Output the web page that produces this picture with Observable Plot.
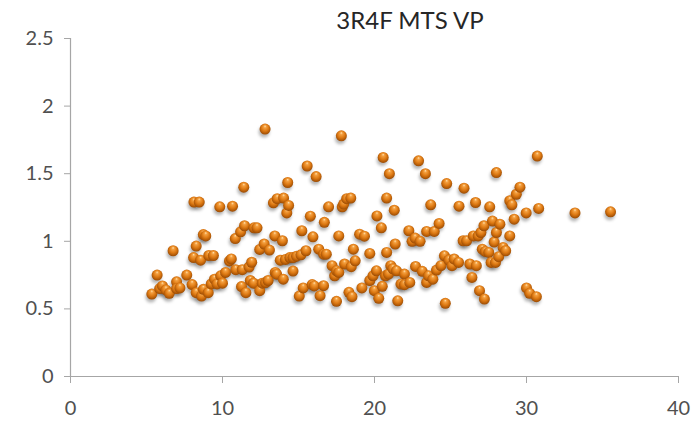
<!DOCTYPE html>
<html>
<head>
<meta charset="utf-8">
<script src="https://cdn.jsdelivr.net/npm/d3@7"></script>
<script src="https://cdn.jsdelivr.net/npm/@observablehq/plot@0.6"></script>
<style>
  html, body { margin: 0; padding: 0; background: #fff; }
  #wrap { position: relative; width: 692px; height: 421px; }
  #title { position: absolute; left: 310px; width: 200px; top: 5px; text-align: center;
           font-family: Lato, "Open Sans", sans-serif; font-size: 24px; color: #262626; }
</style>
</head>
<body>
<div id="wrap"><div id="title">3R4F MTS VP</div></div>
<script>
const title = "3R4F MTS VP";
const xTicks = [0, 10, 20, 30, 40];
const yTicks = [0, 0.5, 1, 1.5, 2, 2.5];
const xs = [5.35,5.7,5.87,6.05,6.28,6.5,6.75,6.98,6.98,7.2,7.65,8.0,8.1,8.12,8.47,8.27,8.27,8.56,8.62,8.74,8.9,8.74,9.06,9.1,9.4,9.26,9.47,9.64,9.82,9.88,10.0,10.2,10.46,10.66,10.58,10.84,10.87,11.19,11.25,11.3,11.4,11.45,11.54,11.75,11.83,11.92,12.04,12.07,12.27,12.45,12.45,12.62,12.74,12.8,12.83,13.0,13.09,13.35,13.44,13.47,13.56,13.6,13.8,13.94,14.0,14.02,14.14,14.23,14.29,14.35,14.43,14.64,14.64,14.87,15.05,15.16,15.22,15.31,15.49,15.57,15.78,15.9,15.95,16.04,16.16,16.33,16.42,16.65,16.65,16.7,16.83,16.98,17.21,17.38,17.5,17.5,17.65,17.65,17.82,17.88,17.97,18.03,18.17,18.32,18.44,18.47,18.52,18.61,18.73,19.02,19.17,19.34,19.69,19.69,19.9,19.99,20.13,20.16,20.28,20.45,20.51,20.57,20.72,20.8,20.8,20.92,20.98,21.07,21.21,21.3,21.36,21.45,21.53,21.74,21.97,21.97,22.26,22.32,22.47,22.67,22.7,22.9,23.0,23.14,23.35,23.43,23.43,23.55,23.7,23.93,23.84,24.08,24.25,24.37,24.6,24.66,24.75,24.89,25.1,25.24,25.53,25.56,25.89,25.83,26.06,26.27,26.41,26.5,26.65,26.7,26.82,26.91,27.0,27.09,27.2,27.23,27.29,27.52,27.58,27.67,27.76,27.87,27.96,28.02,28.02,28.17,28.25,28.46,28.63,28.9,28.9,29.04,29.19,29.33,29.57,29.98,30.0,30.21,30.65,30.71,30.8,33.19,35.53];
const ys = [0.61,0.75,0.65,0.67,0.64,0.615,0.93,0.70,0.65,0.655,0.75,0.68,0.88,1.29,1.29,0.965,0.62,0.86,0.595,1.05,1.04,0.645,0.62,0.895,0.895,0.685,0.72,0.685,1.255,0.745,0.69,0.77,0.855,1.26,0.87,1.02,0.79,1.07,0.665,0.79,1.40,1.115,0.62,0.81,0.71,0.845,0.69,1.10,1.10,0.635,0.94,0.69,0.98,1.83,0.695,0.71,0.935,1.285,1.04,0.77,0.757,1.315,0.86,1.004,0.72,1.32,0.866,1.21,1.435,1.265,0.88,0.78,0.88,0.89,0.595,0.90,1.078,0.655,0.93,1.557,1.186,0.68,1.033,0.67,1.479,0.942,0.598,0.672,0.905,1.14,0.905,1.255,0.82,0.745,0.556,0.782,1.04,0.77,1.78,1.255,1.275,0.832,1.315,0.623,1.32,0.812,0.59,0.942,0.856,1.053,0.655,1.038,0.91,0.71,0.745,0.635,0.782,1.188,0.578,1.10,0.667,1.62,0.745,1.32,0.918,0.758,1.50,0.82,0.797,1.23,0.98,0.782,0.56,0.684,0.758,0.679,1.078,0.696,1.0,1.024,0.814,1.595,1.0,0.778,1.50,1.073,0.696,0.745,1.27,1.073,0.72,0.787,1.132,0.82,0.893,0.541,1.427,0.861,0.82,0.869,0.844,1.26,1.393,1.004,1.004,0.832,0.733,1.04,1.287,0.82,1.04,0.635,1.065,0.942,1.115,0.573,0.925,0.918,1.255,0.844,1.15,0.994,0.844,1.508,1.065,0.886,1.127,0.955,0.93,1.04,1.30,1.27,1.164,1.348,1.40,1.21,0.655,0.615,0.59,1.63,1.243,1.21,1.218];

const data = xs.map((x, i) => ({x, y: ys[i]}));
const axisColor = "#a6a6a6";
const textColor = "#505050";
const fmt = d => String(d);

const chart = Plot.plot({
  width: 692,
  height: 421,
  marginLeft: 70,
  marginRight: 14,
  marginTop: 38,
  marginBottom: 45,
  style: {fontFamily: "Lato, 'Open Sans', sans-serif", fontSize: "20px", color: textColor, background: "#fff"},
  x: {domain: [0, 40]},
  y: {domain: [0, 2.5]},
  marks: [
    Plot.axisY(yTicks, {tickSize: 6, tickPadding: 11, stroke: axisColor, fill: textColor, label: null, fontSize: 20, tickFormat: fmt}),
    Plot.axisX(xTicks, {tickSize: 7, tickPadding: 17, stroke: axisColor, fill: textColor, label: null, fontSize: 20, tickFormat: fmt}),
    Plot.ruleX([0], {y1: 0, y2: 2.5, stroke: axisColor, strokeWidth: 1.2}),
    Plot.ruleY([0], {x1: 0, x2: 40, stroke: axisColor, strokeWidth: 1.2}),
    Plot.dot(data, {x: "x", y: "y", r: 5.5, dx: -1, dy: 3, fill: "#000", fillOpacity: 0.28, stroke: "none", className: "shadow"}),
    Plot.dot(data, {x: "x", y: "y", r: 5.5, fill: "url(#ball)", stroke: "none", className: "balls"})
  ]
});

const svgNS = "http://www.w3.org/2000/svg";
const defs = document.createElementNS(svgNS, "defs");
defs.innerHTML = `
  <radialGradient id="ball" cx="50%" cy="45%" r="55%" fx="50%" fy="22%">
    <stop offset="0%" stop-color="#ffe2b0"/>
    <stop offset="22%" stop-color="#f4a040"/>
    <stop offset="60%" stop-color="#dc7812"/>
    <stop offset="100%" stop-color="#9a4a02"/>
  </radialGradient>
  <filter id="blur" x="-50%" y="-50%" width="200%" height="200%">
    <feGaussianBlur stdDeviation="1.6"/>
  </filter>`;
chart.insertBefore(defs, chart.firstChild);
d3.select(chart).selectAll("g.shadow").attr("filter", "url(#blur)");

document.getElementById("wrap").appendChild(chart);
</script>
</body>
</html>
